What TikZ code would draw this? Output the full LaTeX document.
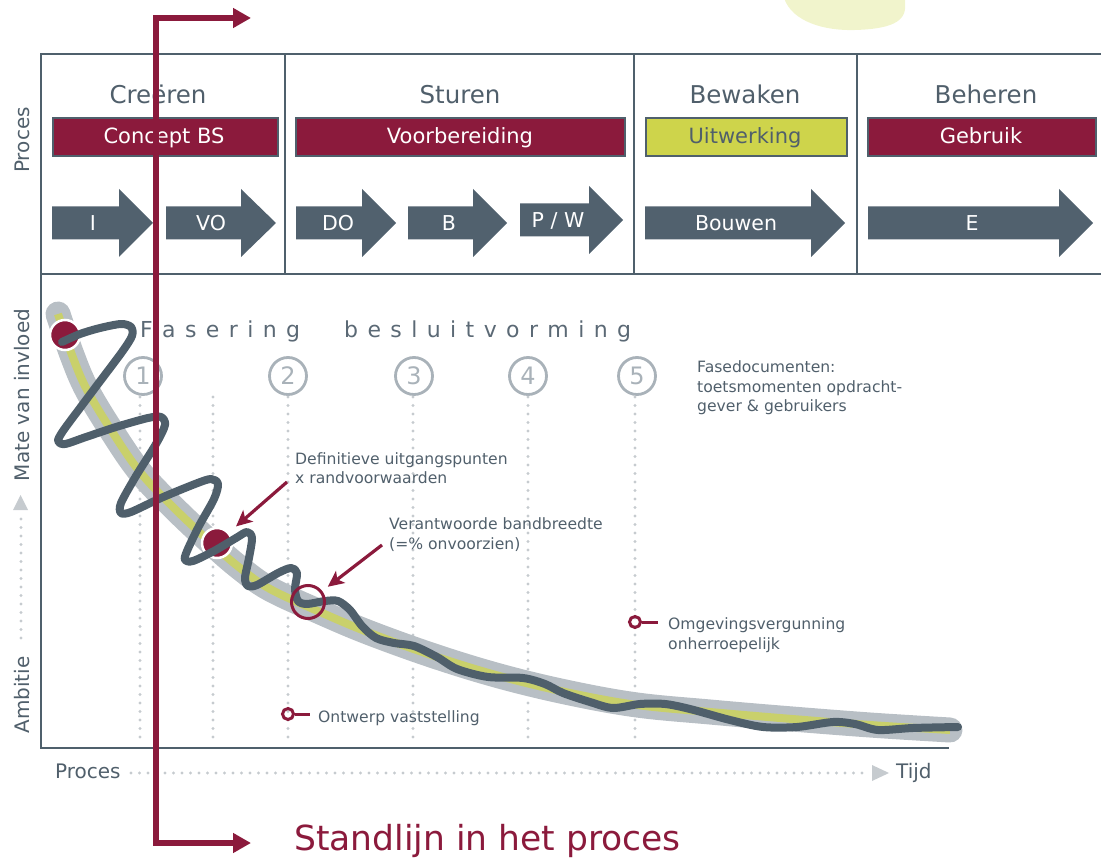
\documentclass[tikz,border=0pt]{standalone}
\usepackage{fontspec}
\setmainfont{DejaVu Sans}
\usetikzlibrary{arrows.meta}

\definecolor{frame}{HTML}{4F606C}
\definecolor{slatetext}{HTML}{505F6B}
\definecolor{arrowfill}{HTML}{51616E}
\definecolor{crimson}{HTML}{8B1A3C}
\definecolor{limebox}{HTML}{CED44B}
\definecolor{limeline}{HTML}{C9D06B}
\definecolor{bandgray}{HTML}{B8BFC5}
\definecolor{circgray}{HTML}{A9B2B9}
\definecolor{dotgray}{HTML}{C6CBCF}
\definecolor{blobfill}{HTML}{F1F4CC}
\definecolor{wavecol}{HTML}{4F5F6B}
\definecolor{spacedtext}{HTML}{5B6975}

\newcommand{\fsz}[1]{\fontsize{#1}{#1}\selectfont}
\newcommand{\ls}{\hspace{9.4pt}}
% block arrow: x start, x head, x tip, y centre
\newcommand{\phasearrow}[4]{%
  \fill[arrowfill] (#1,#4-16.5) -- (#2,#4-16.5) -- (#2,#4-34) -- (#3,#4)
    -- (#2,#4+34) -- (#2,#4+16.5) -- (#1,#4+16.5) -- cycle;}

\begin{document}
\begin{tikzpicture}[x=1pt,y=-1pt,
  frameline/.style={draw=frame,line width=2.8pt,line join=miter},
  phasetitle/.style={anchor=base,text=slatetext,font=\fsz{24.5},inner sep=0pt},
  barbox/.style={draw=frame,line width=1.6pt,anchor=north west,inner sep=0pt,minimum height=38pt},
  bartext/.style={anchor=base,font=\fsz{21},inner sep=0pt},
  arrowlabel/.style={anchor=base,text=white,font=\fsz{20.5},inner sep=0pt},
  phasecircle/.style={circle,draw=circgray,line width=2.8pt,minimum size=37pt,inner sep=0pt,text=circgray,font=\fsz{24}},
  dotline/.style={draw=dotgray,line width=3.4pt,line cap=round,dash pattern=on 0pt off 8.5pt},
  note/.style={anchor=base west,text=slatetext,font=\fontsize{15.6}{19.5}\selectfont,inner sep=0pt,align=left},
  axislabel/.style={anchor=base,text=slatetext,font=\fsz{20},inner sep=0pt},
  annarrow/.style={draw=crimson,line width=3.2pt,-{Stealth[length=16pt,width=15pt,inset=4pt]}},
  ringmark/.style={circle,draw=crimson,line width=3pt,minimum size=11pt,inner sep=0pt},
  dotmark/.style={circle,fill=crimson,draw=white,line width=2.5pt,minimum size=30pt,inner sep=0pt},
  standlijn/.style={draw=crimson,line width=5.5pt,line join=miter,
    {Triangle[length=18pt,width=19pt]}-{Triangle[length=18pt,width=19pt]}},
]
\useasboundingbox (0,0) rectangle (1101,858);

% pale blob at the top edge
\fill[blobfill] (784,-2) .. controls (792,22) and (825,31) .. (855,30)
  .. controls (890,29) and (907,22) .. (905,4) -- (905,-2) -- cycle;

% frame of the process table and the axes
\draw[frameline] (1101,54) -- (41,54) -- (41,748) -- (949,748);
\draw[frameline] (41,274) -- (1101,274);
\draw[frameline] (285,54) -- (285,274);
\draw[frameline] (634,54) -- (634,274);
\draw[frameline] (857,54) -- (857,274);

% phase titles
\node[phasetitle] (tCre) at (158,104) {Creëren};
\node[phasetitle] (tStu) at (460,104) {Sturen};
\node[phasetitle] (tBew) at (745,104) {Bewaken};
\node[phasetitle] (tBeh) at (986,104) {Beheren};

% phase bars
\node[barbox,fill=crimson,minimum width=225pt] (bCon) at (52,117) {};
\node[barbox,fill=crimson,minimum width=329pt] (bVoo) at (295,117) {};
\node[barbox,fill=limebox,minimum width=201pt] (bUit) at (645,117) {};
\node[barbox,fill=crimson,minimum width=228pt] (bGeb) at (867,117) {};
\node[bartext,text=white] (lCon) at (164,144) {Concept BS};
\node[bartext,text=white] (lVoo) at (460,144) {Voorbereiding};
\node[bartext,text=slatetext] (lUit) at (745,144) {Uitwerking};
\node[bartext,text=white] (lGeb) at (981,144) {Gebruik};

% process steps
\phasearrow{52}{119}{153}{223}
\phasearrow{166}{241}{276}{223}
\phasearrow{296}{362}{396}{223}
\phasearrow{408}{473}{507}{223}
\phasearrow{520}{589}{623}{220}
\phasearrow{645}{811}{845}{223}
\phasearrow{868}{1059}{1093}{223}
\node[arrowlabel] (sI) at (93,231) {I};
\node[arrowlabel] (sVO) at (211,231) {VO};
\node[arrowlabel] (sDO) at (338,231) {DO};
\node[arrowlabel] (sB) at (449,231) {B};
\node[arrowlabel] (sPW) at (558,228) {P / W};
\node[arrowlabel] (sBou) at (736,231) {Bouwen};
\node[arrowlabel] (sE) at (972,231) {E};

% axis labels
\node[axislabel,rotate=90] (lProcV) at (30,140) {Proces};
\node[axislabel,rotate=90] (lMate) at (30,395) {Mate van invloed};
\node[axislabel,rotate=90] (lAmb) at (30,695) {Ambitie};
\fill[dotgray] (13,510) -- (28,510) -- (20.5,495) -- cycle;
\coordinate (yDotTop) at (21,519);
\coordinate (yDotBot) at (21,643);
\draw[dotline] (yDotTop) -- (yDotBot);

\node[axislabel,anchor=base west] (lProcH) at (55,778) {Proces};
\node[axislabel,anchor=base west] (lTijd) at (896,778) {Tijd};
\coordinate (xDotL) at (131,773);
\coordinate (xDotR) at (866,773);
\draw[dotline] (xDotL) -- (xDotR);
\fill[dotgray] (872,765) -- (889,773) -- (872,781) -- cycle;

% decision moments
\node[phasecircle] (c1) at (143,376) {1};
\node[phasecircle] (c2) at (288,376) {2};
\node[phasecircle] (c3) at (414,376) {3};
\node[phasecircle] (c4) at (528,376) {4};
\node[phasecircle] (c5) at (637,376) {5};
\foreach \x in {140,213,288,413,528,635}
  \draw[dotline] (\x,397) -- (\x,742);

\node[anchor=base west,text=spacedtext,font=\fsz{22},inner sep=0pt] (fas) at (140,338)
  {F\ls a\ls s\ls e\ls r\ls i\ls n\ls g\hspace{44pt}b\ls e\ls s\ls l\ls u\ls i\ls t\ls v\ls o\ls r\ls m\ls i\ls n\ls g};

\node[note] (nFase) at (697,412) {Fasedocumenten:\\toetsmomenten opdracht-\\gever \& gebruikers};

% influence band
\draw[bandgray,line width=25pt,line cap=round,line join=round] plot[smooth,tension=0.6] coordinates {
  (58,314) (72,355) (87,390) (113,433) (140,472) (173,507) (210,542) (240,568) (270,589)
  (320,612) (370,633) (437,657) (503,677) (570,693) (637,705) (710,712) (780,718) (870,725) (950,730)};
\draw[limeline,line width=8pt,line join=round] plot[smooth,tension=0.6] coordinates {
  (58,314) (72,355) (87,390) (113,433) (140,472) (173,507) (210,542) (240,568) (270,589)
  (320,612) (370,633) (437,657) (503,677) (570,693) (637,705) (710,712) (780,718) (870,725) (950,730)};

\node[dotmark] (d1) at (65,335) {};
\node[dotmark] (d2) at (217,543) {};

% decision path
\draw[wavecol,line width=8pt,line cap=round,line join=round] plot[smooth,tension=0.5] coordinates {
  (62,342) (80,334) (100,328) (121,324) (131,327) (132,336) (122,352) (101,380) (80,408)
  (63,431) (58,441) (65,444) (86,437) (116,427) (148,418) (161,417) (165,425) (156,444)
  (136,476) (121,503) (121,513) (131,512) (161,498) (195,484) (211,479) (218,484) (214,499)
  (199,526) (187,551) (185,560) (193,561) (214,551) (236,538) (247,532) (252,538) (249,558)
  (245,578) (248,586) (257,585) (278,573) (291,568) (297,573) (295,589) (298,601) (307,604)
  (325,601) (338,601) (350,610) (362,626) (376,638) (394,643) (414,646) (437,657) (457,669)
  (488,677) (523,678) (545,684) (563,693) (590,702) (613,708) (640,704) (665,704) (690,709)
  (730,720) (763,727) (797,727) (833,722) (855,724) (878,730) (913,728) (958,727)};

\node[circle,draw=crimson,line width=3pt,minimum size=33pt,inner sep=0pt] (ring) at (308,602) {};

% annotations
\node[note] (nDef) at (295,484) {Definitieve uitgangspunten\\x randvoorwaarden};
\node[note] (nVer) at (389,549) {Verantwoorde bandbreedte\\(=\% onvoorzien)};
\coordinate (aDef) at (287,482);
\coordinate (aVer) at (382,545);
\draw[annarrow,shorten >=9pt] (aDef) -- (d2);
\draw[annarrow,shorten >=7pt] (aVer) -- (ring);

\node[ringmark] (mOnt) at (288,714) {};
\coordinate (mOntEnd) at (310,714);
\draw[crimson,line width=3pt] (mOnt) -- (mOntEnd);
\node[note] (nOnt) at (318,722) {Ontwerp vaststelling};

\node[ringmark] (mOmg) at (635,622) {};
\coordinate (mOmgEnd) at (658,622);
\draw[crimson,line width=3pt] (mOmg) -- (mOmgEnd);
\node[note] (nOmg) at (668,649) {Omgevingsvergunning\\onherroepelijk};

% current position in the process
\coordinate (stTop) at (251,18);
\coordinate (stCornerTop) at (156,18);
\coordinate (stCornerBot) at (156,843);
\coordinate (stBot) at (251,843);
\draw[standlijn] (stTop) -- (stCornerTop) -- (stCornerBot) -- (stBot);
\node[anchor=base west,text=crimson,font=\fsz{34.5},inner sep=0pt] (lStand) at (294,850) {Standlijn in het proces};

\end{tikzpicture}
\end{document}
